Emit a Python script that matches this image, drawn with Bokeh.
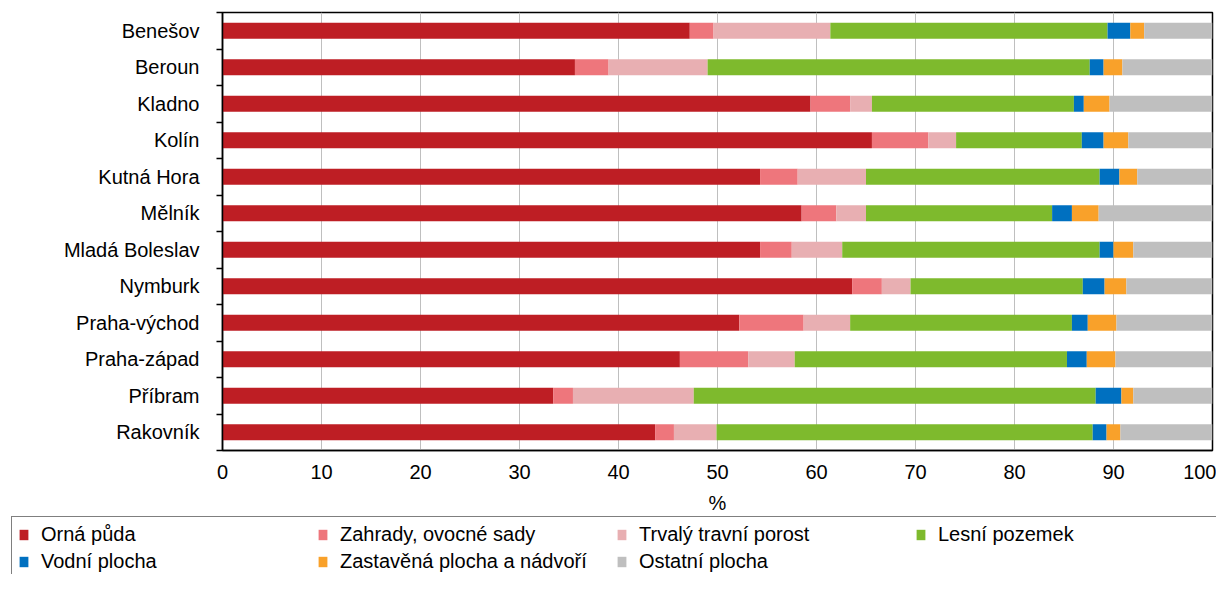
from bokeh.plotting import figure
from bokeh.layouts import column
from bokeh.models import ColumnDataSource, FixedTicker, Legend, LegendItem, Range1d
from bokeh.embed import file_html
from bokeh.resources import INLINE

districts = ["Benešov", "Beroun", "Kladno", "Kolín", "Kutná Hora", "Mělník",
             "Mladá Boleslav", "Nymburk", "Praha-východ", "Praha-západ",
             "Příbram", "Rakovník"]

orna = [47.2, 35.6, 59.4, 65.6, 54.3, 58.5, 54.3, 63.6, 52.2, 46.2, 33.4, 43.7]
zahrady = [2.4, 3.4, 4.0, 5.7, 3.8, 3.5, 3.2, 3.0, 6.5, 6.9, 2.0, 1.9]
trvaly = [11.8, 10.0, 2.2, 2.8, 6.9, 3.0, 5.1, 2.9, 4.7, 4.7, 12.2, 4.3]
lesni = [28.0, 38.6, 20.4, 12.7, 23.6, 18.8, 26.0, 17.4, 22.4, 27.5, 40.6, 38.0]
vodni = [2.3, 1.4, 1.0, 2.2, 2.0, 2.0, 1.4, 2.2, 1.6, 2.0, 2.6, 1.4]
zastavena = [1.4, 1.9, 2.6, 2.5, 1.8, 2.7, 2.0, 2.2, 2.9, 2.9, 1.2, 1.4]
ostatni = [6.9, 9.1, 10.4, 8.5, 7.6, 11.5, 8.0, 8.7, 9.7, 9.8, 8.0, 9.3]

series_names = ["Orná půda", "Zahrady, ovocné sady", "Trvalý travní porost",
                "Lesní pozemek", "Vodní plocha", "Zastavěná plocha a nádvoří",
                "Ostatní plocha"]
series_keys = ["orna", "zahrady", "trvaly", "lesni", "vodni", "zastavena", "ostatni"]
colors = ["#BE1E24", "#EE767C", "#E8AFB2", "#7EBA2D", "#0070C0", "#F9A12A", "#BFBFBF"]
x_ticks = [0, 10, 20, 30, 40, 50, 60, 70, 80, 90, 100]

n = len(districts)
positions = list(range(n))
source = ColumnDataSource(dict(y=positions, orna=orna, zahrady=zahrady, trvaly=trvaly,
                               lesni=lesni, vodni=vodni, zastavena=zastavena,
                               ostatni=ostatni))

FONT = "Liberation Sans"

# ---------------- main chart ----------------
p = figure(width=1216, height=516, output_backend="svg", toolbar_location=None,
           x_range=Range1d(0, 100), y_range=Range1d(n - 0.5, -0.5),
           min_border_left=222, min_border_right=4, min_border_top=12,
           min_border_bottom=64, background_fill_color="white",
           border_fill_color="white", frame_align=False)

p.hbar_stack(series_keys, y="y", height=0.44, color=colors, line_width=0, source=source)

p.xaxis.ticker = FixedTicker(ticks=x_ticks)
p.xaxis.major_tick_out = 0
p.xaxis.major_tick_in = 0
p.xaxis.minor_tick_out = 0
p.xaxis.minor_tick_in = 0
p.xaxis.axis_line_color = "black"
p.xaxis.axis_line_width = 1.5
p.xaxis.major_label_text_font = FONT
p.xaxis.major_label_text_font_size = "20px"
p.xaxis.major_label_text_color = "black"
p.xaxis.major_label_standoff = 14
p.xaxis.axis_label = "%"
p.xaxis.axis_label_text_font = FONT
p.xaxis.axis_label_text_font_size = "20px"
p.xaxis.axis_label_text_font_style = "normal"
p.xaxis.axis_label_text_color = "black"
p.xaxis.axis_label_standoff = 10

p.yaxis.ticker = FixedTicker(ticks=positions,
                             minor_ticks=[i - 0.5 for i in range(n + 1)])
p.yaxis.major_label_overrides = {i: d for i, d in enumerate(districts)}
p.yaxis.major_tick_out = 0
p.yaxis.major_tick_in = 0
p.yaxis.minor_tick_out = 6
p.yaxis.minor_tick_in = 0
p.yaxis.minor_tick_line_color = "black"
p.yaxis.minor_tick_line_width = 1.5
p.yaxis.axis_line_color = "black"
p.yaxis.axis_line_width = 1.5
p.yaxis.major_label_text_font = FONT
p.yaxis.major_label_text_font_size = "20px"
p.yaxis.major_label_text_color = "black"
p.yaxis.major_label_standoff = 17

p.ygrid.visible = False
p.xgrid.grid_line_color = "#BFBFBF"
p.xgrid.grid_line_width = 1

p.outline_line_color = "black"
p.outline_line_width = 1.5

# ---------------- legend strip ----------------
lg = figure(width=1216, height=58, output_backend="svg", toolbar_location=None,
            x_range=Range1d(0, 1), y_range=Range1d(100, 101),
            x_axis_location=None, y_axis_location=None,
            min_border=0, min_border_left=0, min_border_right=0,
            min_border_top=0, min_border_bottom=0, frame_align=False,
            background_fill_color="white", border_fill_color="white")
lg.grid.visible = False
lg.outline_line_color = None
legend_renderers = lg.hbar_stack(series_keys, y="y", height=0.44, color=colors,
                                 line_width=0, source=source)

items = [LegendItem(label=name, renderers=[r])
         for name, r in zip(series_names, legend_renderers)]
legend = Legend(items=items, location=(11, -6), orientation="horizontal", ncols=4,
                label_text_font=FONT, label_text_font_size="20px",
                label_text_color="black", glyph_width=11, glyph_height=13,
                label_standoff=12, label_width=272, label_height=23,
                spacing=4, padding=6, margin=0,
                border_line_color="black", border_line_width=1.5,
                background_fill_color="white", background_fill_alpha=1.0)
lg.add_layout(legend, "center")

layout = column(p, lg, spacing=0)

open("out.html", "w").write(file_html(layout, INLINE))
